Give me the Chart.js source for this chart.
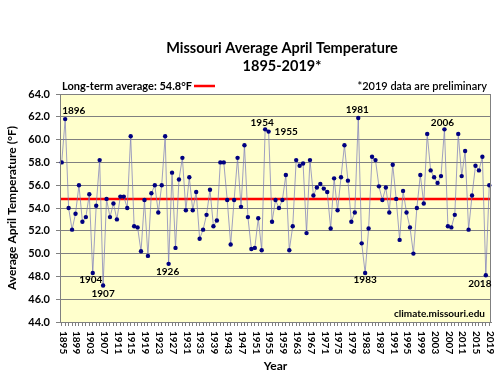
<!DOCTYPE html>
<html>
<head>
<meta charset="utf-8">
<script src="https://cdn.jsdelivr.net/npm/chart.js@4"></script>
<style>
    html, body { margin: 0; padding: 0; background: #fff; }
</style>
</head>
<body>
<canvas id="chartCanvas" width="500" height="371"></canvas>
<script>
// April mean temperature, Missouri, 1895-2019 (deg F)
const firstYear = 1895, lastYear = 2019;
const years = [];
for (let y = firstYear; y <= lastYear; y++) years.push(String(y));

const temps = [
    58.0, 61.8, 54.0, 52.1, 53.5, 56.0, 52.8, 53.2, 55.2, 48.3,   // 1895-1904
    54.2, 58.2, 47.2, 54.8, 53.2, 54.4, 53.0, 55.0, 55.0, 54.0,   // 1905-1914
    60.3, 52.4, 52.3, 50.2, 54.7, 49.8, 55.3, 56.0, 53.6, 56.0,   // 1915-1924
    60.3, 49.1, 57.1, 50.5, 56.5, 58.4, 53.8, 56.7, 53.8, 55.4,   // 1925-1934
    51.3, 52.1, 53.4, 55.6, 52.4, 52.9, 58.0, 58.0, 54.7, 50.8,   // 1935-1944
    54.7, 58.4, 54.1, 59.5, 53.2, 50.4, 50.5, 53.1, 50.3, 60.9,   // 1945-1954
    60.7, 52.8, 54.7, 54.0, 54.7, 56.9, 50.3, 52.4, 58.2, 57.7,   // 1955-1964
    57.9, 51.8, 58.2, 55.1, 55.8, 56.1, 55.7, 55.4, 52.2, 56.6,   // 1965-1974
    53.8, 56.7, 59.5, 56.4, 52.8, 53.6, 61.9, 50.9, 48.3, 52.2,   // 1975-1984
    58.5, 58.2, 55.9, 54.7, 55.8, 53.6, 57.8, 54.8, 51.2, 55.5,   // 1985-1994
    53.6, 52.3, 50.0, 54.0, 56.9, 54.4, 60.5, 57.3, 56.7, 56.2,   // 1995-2004
    56.8, 60.9, 52.4, 52.3, 53.4, 60.5, 56.8, 59.0, 52.1, 55.1,   // 2005-2014
    57.7, 57.3, 58.5, 48.1, 56.0                                  // 2015-2019
];

const avgTemp = 54.8;
const yMin = 44, yMax = 64, yStep = 2;
const xTickEvery = 4;
const labelYears = ['1896', '1904', '1907', '1926', '1954', '1955', '1981', '1983', '2006', '2018'];

const titleLines = ['Missouri Average April Temperature', '1895-2019*'];
const avgText = 'Long-term average: 54.8°F';
const noteText = '*2019 data are preliminary';
const sourceText = 'climate.missouri.edu';
const yTitle = 'Average April Temperature (°F)';
const xTitle = 'Year';

const FONT = 'Lato, "DejaVu Sans", sans-serif';

// where each year label sits relative to its point: dx, dy, align
const labelPlace = {
    '1896': [-3, -8, 'left'],
    '1904': [-2, 7, 'center'],
    '1907': [0, 8, 'center'],
    '1926': [-1, 8, 'center'],
    '1954': [-3, -7, 'center'],
    '1955': [6, 0, 'left'],
    '1981': [-1, -8, 'center'],
    '1983': [0, 7, 'center'],
    '2006': [-2, -7, 'center'],
    '2018': [-6, 9, 'center']
};

const plotBg = {
    id: 'plotBg',
    beforeDraw(chart) {
        const a = chart.chartArea, c = chart.ctx;
        c.save();
        c.fillStyle = '#ffffcc';
        c.fillRect(a.left, a.top, a.right - a.left, a.bottom - a.top);
        c.restore();
    },
    beforeDatasetsDraw(chart) {
        const a = chart.chartArea, c = chart.ctx;
        const y = chart.scales.y.getPixelForValue(avgTemp);
        c.save();
        c.strokeStyle = '#ff0000';
        c.lineWidth = 2.5;
        c.beginPath();
        c.moveTo(a.left, y);
        c.lineTo(a.right, y);
        c.stroke();
        c.restore();
    },
    afterDraw(chart) {
        const a = chart.chartArea, c = chart.ctx;
        const xs = chart.scales.x;
        const meta = chart.getDatasetMeta(0);
        c.save();

        // plot frame
        c.strokeStyle = '#808080';
        c.lineWidth = 1;
        c.strokeRect(a.left + 0.5, a.top + 0.5, a.right - a.left - 1, a.bottom - a.top);

        // title
        c.fillStyle = '#000';
        c.textAlign = 'center';
        c.textBaseline = 'middle';
        c.font = 'bold 14.5px ' + FONT;
        c.fillText(titleLines[0], 282, 48);
        c.fillText(titleLines[1], 282, 66);

        // legend-ish note for the average line
        c.font = 'bold 11px ' + FONT;
        c.textAlign = 'left';
        c.fillText(avgText, a.left + 2, 86);
        const w = c.measureText(avgText).width;
        c.strokeStyle = '#ff0000';
        c.lineWidth = 2.5;
        c.beginPath();
        c.moveTo(a.left + w + 4, 86);
        c.lineTo(a.left + w + 25, 86);
        c.stroke();

        c.textAlign = 'right';
        c.font = '600 11px ' + FONT;
        c.fillText(noteText, a.right - 4, 86);

        c.font = 'bold 10px ' + FONT;
        c.fillText(sourceText, a.right - 6, a.bottom - 8);

        // year labels next to extreme points
        c.font = 'bold 10px ' + FONT;
        labelYears.forEach((yr) => {
            const i = years.indexOf(yr);
            const pt = meta.data[i];
            const p = labelPlace[yr];
            c.textAlign = p[2];
            c.fillText(yr, pt.x + p[0], pt.y + p[1]);
        });

        // x tick labels, turned to read top to bottom
        c.font = 'bold 10px ' + FONT;
        c.textAlign = 'left';
        c.textBaseline = 'middle';
        for (let i = 0; i < years.length; i += xTickEvery) {
            const x = xs.getPixelForValue(i);
            c.save();
            c.translate(x + 1, a.bottom + 9);
            c.rotate(Math.PI / 2);
            c.fillText(years[i], 0, 0);
            c.restore();
        }

        // axis titles
        c.font = 'bold 12px ' + FONT;
        c.textAlign = 'center';
        c.fillText(xTitle, (a.left + a.right) / 2, 366);
        c.save();
        c.translate(12, (a.top + a.bottom) / 2);
        c.rotate(-Math.PI / 2);
        c.fillText(yTitle, 0, 0);
        c.restore();

        c.restore();
    }
};

const ctx = document.getElementById('chartCanvas').getContext('2d');
const chart = new Chart(ctx, {
    type: 'line',
    data: {
        labels: years,
        datasets: [{
            data: temps,
            borderColor: 'rgba(120,120,185,0.7)',
            borderWidth: 1,
            pointRadius: 2.2,
            pointBackgroundColor: '#000080',
            pointBorderColor: '#000080',
            pointBorderWidth: 0,
            tension: 0
        }]
    },
    options: {
        responsive: false,
        animation: false,
        devicePixelRatio: 1,
        layout: { padding: { top: 94, right: 9, left: 0, bottom: 0 } },
        plugins: { legend: { display: false }, tooltip: { enabled: false }, title: { display: false } },
        scales: {
            x: {
                type: 'category',
                offset: true,
                ticks: { display: false, autoSkip: false },
                grid: { drawOnChartArea: false, drawTicks: true, tickLength: 4, color: '#808080' },
                border: { color: '#808080' },
                afterFit: (s) => { s.height = 49; }
            },
            y: {
                min: yMin,
                max: yMax,
                ticks: {
                    stepSize: yStep,
                    padding: 6,
                    color: '#000',
                    font: { family: FONT, size: 11, weight: 'bold' },
                    callback: (v) => v.toFixed(1)
                },
                grid: { color: '#808080', tickLength: 4 },
                border: { color: '#808080' },
                afterFit: (s) => { s.width = 60; }
            }
        }
    },
    plugins: [plotBg]
});
</script>
</body>
</html>
